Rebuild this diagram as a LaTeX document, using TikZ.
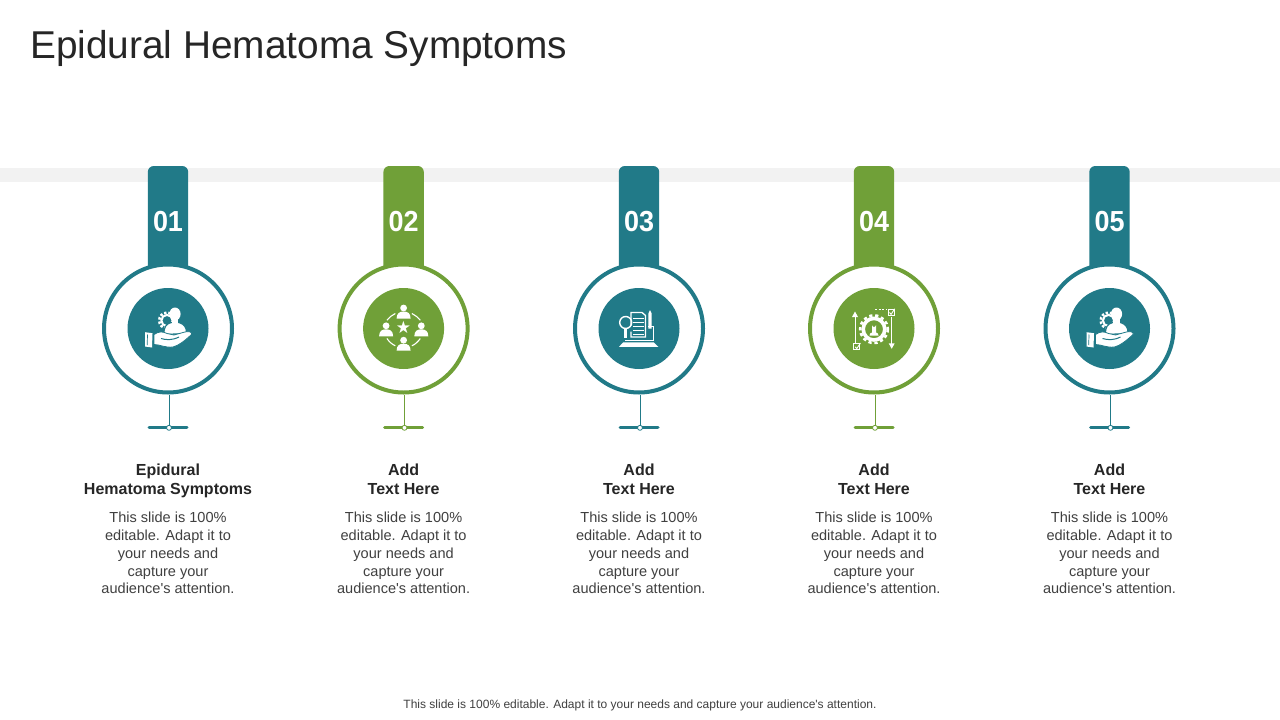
\documentclass[tikz,border=0pt]{standalone}
\usepackage{fontspec}
\setmainfont{Liberation Sans}[Ligatures=TeXOff]
\definecolor{tealc}{HTML}{217A88}
\definecolor{greenc}{HTML}{70A038}
\definecolor{bandc}{HTML}{F2F2F2}
\definecolor{titlec}{HTML}{262626}
\definecolor{bodyc}{HTML}{404040}
\tikzset{
  x=1pt,y=-1pt,
  tabbox/.style={fill=#1,draw=none,rounded corners=6pt},
  ringnode/.style={circle,draw=#1,line width=4pt,fill=white,minimum size=128pt,inner sep=0pt},
  discnode/.style={circle,fill=#1,minimum size=81pt,inner sep=0pt},
  numlabel/.style={text=white,font=\fontsize{29}{29}\selectfont\bfseries,inner sep=0pt,transform shape,xscale=.93},
  headlabel/.style={text=titlec,font=\fontsize{16}{19}\selectfont\bfseries,align=center,inner sep=0pt},
  bodylabel/.style={text=bodyc,font=\fontsize{14.55}{17.8}\selectfont,align=center,inner sep=0pt},
  stemline/.style={draw=#1,line width=1pt},
  footbar/.style={draw=#1,line width=3pt,line cap=round},
  footdot/.style={circle,draw=#1,fill=white,line width=.8pt,minimum size=5pt,inner sep=0pt},
}
\newcommand{\iconhand}[1]{\begin{scope}[shift={(#1)}]
  % gear behind the bust
  \draw[white,line width=2.6pt,dash pattern=on 2.4pt off 1.8pt] (-1,-8) circle[radius=7.8];
  \draw[white,line width=2pt] (-1,-8) circle[radius=5.6];
  % bust: shoulders, then head
  \filldraw[fill=white,draw=tealc,line width=1.2pt] (-4,6) .. controls (-4.5,-1) and (-2,-4.5) .. (3,-6) -- (11,-6) .. controls (16,-4.5) and (19,-1) .. (18.5,5) -- cycle;
  \fill[white] (7,-14.5) ellipse[x radius=5.6,y radius=6.5];
  \fill[white] (3.6,-10) rectangle (10.4,-4);
  % cuff
  \fill[white] (-23,3.7) -- (-15.5,4.7) -- (-16,19) -- (-23,18) -- cycle;
  \draw[tealc,line width=.7pt] (-20.5,6) -- (-20.8,16.5);
  % hand
  \filldraw[fill=white,draw=tealc,line width=.8pt] (-14,6) .. controls (-9,2.5) and (-5,3) .. (-1,5) -- (6,6.5) -- (15,4) .. controls (20,2) and (25,3.5) .. (23.5,6) .. controls (17,12) and (11,17) .. (5,18.5) .. controls (-3,19.5) and (-8,16) .. (-14,16) -- cycle;
  \draw[tealc,line width=1pt] (-7,10) .. controls (-2,11.5) and (4,12) .. (11,8.5);
\end{scope}}
\newcommand{\personshape}[1]{\begin{scope}[shift={(#1)}]
  \fill[white] (0,-6.2) circle[radius=3.4];
  \fill[white] (-7,4.3) .. controls (-7,-1) and (-4,-2.7) .. (0,-2.7) .. controls (4,-2.7) and (7,-1) .. (7,4.3) -- cycle;
\end{scope}}
\newcommand{\iconteam}[1]{\begin{scope}[shift={(#1)}]
  \personshape{0,-14.3}\personshape{0,17.9}\personshape{-17.5,3.5}\personshape{17.7,3.5}
  \node[white,font=\fontsize{17}{17}\selectfont,inner sep=0pt] at (0,-0.7) {\fontspec{DejaVu Sans}★};
  \draw[white,line width=1.1pt] (-16.7,-8.3) .. controls (-14.5,-11) and (-11.5,-13.5) .. (-8.3,-15);
  \draw[white,line width=1.1pt] (16.7,-8.3) .. controls (14.5,-11) and (11.5,-13.5) .. (8.3,-15);
  \draw[white,line width=1.1pt] (-16.7,10) .. controls (-14.5,13) and (-11.5,16) .. (-8.3,17.3);
  \draw[white,line width=1.1pt] (16.7,10) .. controls (14.5,13) and (11.5,16) .. (8.3,17.3);
\end{scope}}
\newcommand{\iconbook}[1]{\begin{scope}[shift={(#1)}]
  \draw[white,line width=1.3pt] (-8,-3) -- (-8,-16) -- (3,-16) -- (6.5,-13) -- (6.5,8.5) -- (-8,8.5) -- (-8,3);
  \foreach \yy in {-10,-6,-2,2,6}{\draw[white,line width=1.6pt] (-6,\yy) -- (4.5,\yy);}
  \draw[white,line width=1.4pt] (-13.3,-6) circle[radius=6];
  \fill[white] (-14.8,0) rectangle (-11.8,9.5);
  \fill[white] (9.4,-15) -- (11,-18.5) -- (12.7,-15) -- (12.7,0) -- (9.4,0) -- cycle;
  \draw[white,line width=1.2pt] (9,-1.7) -- (14.3,-1.7) -- (14.3,11.7) -- (-14,11.7);
  \fill[white] (-15.7,13.8) -- (14.6,13.8) -- (19.3,18.3) -- (-20,18.3) -- cycle;
\end{scope}}
\newcommand{\iconcheck}[1]{\draw[white,line width=.9pt] (#1) ++(-3,-3) rectangle ++(6,6);
  \draw[white,line width=.9pt] (#1) ++(-1.5,0) -- ++(1.6,1.8) -- ++(3.6,-5.5);}
\newcommand{\icongear}[1]{\begin{scope}[shift={(#1)}]
  \draw[white,line width=1pt] (-19,14) -- (-19,-12);
  \fill[white] (-19,-17) -- (-22,-11.5) -- (-16,-11.5) -- cycle;
  \draw[white,line width=1pt] (17.7,-11.7) -- (17.7,15);
  \fill[white] (17.7,20.3) -- (14.7,14.8) -- (20.7,14.8) -- cycle;
  \draw[white,line width=2.6pt,dash pattern=on 3.2pt off 2.8pt] (0,0.7) circle[radius=13.8];
  \draw[white,line width=3.6pt] (0,0.7) circle[radius=10.8];
  \fill[white] (-4.5,7) -- (4.5,7) -- (3.8,5) -- (2,4) -- (2,-3.5) arc[start angle=0,end angle=180,radius=2] -- (-2,4) -- (-3.8,5) -- cycle;
  \draw[white,line width=1pt,dash pattern=on 2pt off 1.6pt] (1,-19) -- (12.7,-19);
  \iconcheck{17,-16}
  \iconcheck{-17.3,18.3}
\end{scope}}
\newcommand{\stage}[7]{% id, x, stem x, colour, number, heading, icon
  \fill[tabbox=#4] (#2-20.2,285) -- (#2-20.2,166) -- (#2+20.2,166) -- (#2+20.2,285) -- cycle;
  \node[numlabel] (num#1) at (#2,222) {#5};
  \node[ringnode=#4] (ring#1) at (#2,328.5) {};
  \node[discnode=#4] (disc#1) at (#2,328.5) {};
  #7{#2,328.5}
  \coordinate (barl#1) at (#2-19,427.5);
  \coordinate (barr#1) at (#2+19,427.5);
  \draw[footbar=#4] (barl#1) -- (barr#1);
  \node[footdot=#4] (dot#1) at (#3,427.8) {};
  \draw[stemline=#4] (ring#1.south -| dot#1) -- (dot#1.north);
  \node[headlabel,anchor=base] (head#1) at (#2,494.5) {#6};
  \node[bodylabel,anchor=north] (body#1) at (#2,512) {This slide is 100\%\\editable. Adapt it to\\your needs and\\capture your\\audience's attention.};
}
\begin{document}
\begin{tikzpicture}
\useasboundingbox (0,0) rectangle (1280,720);
\fill[white] (0,0) rectangle (1280,720);
\fill[bandc] (0,168) rectangle (1280,182);
\node[anchor=base west,text=titlec,font=\fontsize{38.8}{40}\selectfont,inner sep=0pt] (title) at (30,58) {Epidural Hematoma Symptoms};
\stage{a}{168}{169}{tealc}{01}{Epidural\\Hematoma Symptoms}{\iconhand}
\stage{b}{403.6}{404.5}{greenc}{02}{Add\\Text Here}{\iconteam}
\stage{c}{639}{640}{tealc}{03}{Add\\Text Here}{\iconbook}
\stage{d}{874}{875}{greenc}{04}{Add\\Text Here}{\icongear}
\stage{e}{1109.5}{1110.5}{tealc}{05}{Add\\Text Here}{\iconhand}
\node[anchor=base,text=bodyc,font=\fontsize{12}{12}\selectfont,inner sep=0pt] (foot) at (640,708) {This slide is 100\% editable. Adapt it to your needs and capture your audience's attention.};
\end{tikzpicture}
\end{document}
